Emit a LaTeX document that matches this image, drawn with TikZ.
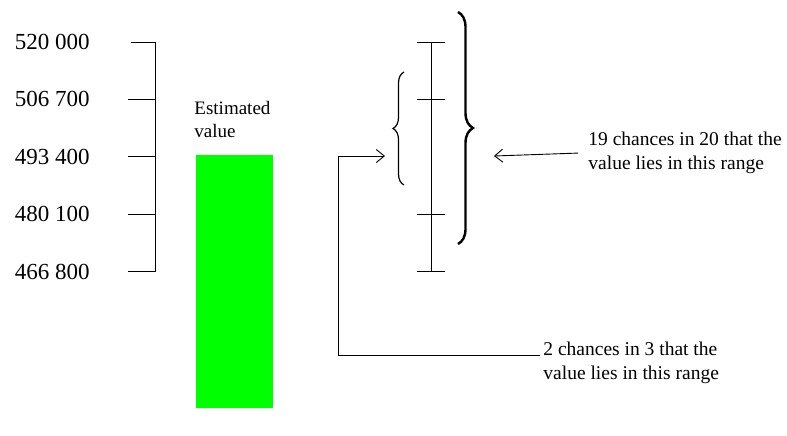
\documentclass[tikz,border=0pt]{standalone}
\usepackage{fontspec}
\setmainfont{Liberation Serif}
\usetikzlibrary{arrows.meta,decorations.pathreplacing}
\definecolor{barGreen}{RGB}{0,255,0}
\begin{document}
\begin{tikzpicture}[x=1pt,y=-1pt,line width=0.9pt,
  ticklabel/.style={anchor=east,inner sep=0pt,font=\fontsize{23}{27}\selectfont},
  note/.style={anchor=north west,inner sep=0pt,align=left,font=\fontsize{19.5}{23.5}\selectfont},
  openhead/.style={-{Straight Barb[length=8pt,width=13pt,line width=0.9pt]}},
  bracestyle/.style={decorate,decoration={brace,amplitude=#1}}
]
\useasboundingbox (0,0) rectangle (787,436);

% value scale on the left
\foreach \v/\k in {520 000/0, 506 700/1, 493 400/2, 480 100/3, 466 800/4}{
  \coordinate (ax\k) at (155,42+57.4*\k);
  \coordinate (tk\k) at (128,42+57.4*\k);
  \node[ticklabel] (lab\k) at (90,42+57.4*\k) {\v};
}
\draw (ax0) -- (ax4);
\draw (131,42) -- (ax0);
\foreach \k in {1,...,4}{ \draw (tk\k) -- (ax\k); }

% estimate bar
\fill[barGreen] (196,155) rectangle (273,408);
\node[note,font=\fontsize{19}{22.5}\selectfont] (est) at (194,101) {Estimated\\value};

% interval bar with its ticks
\coordinate (eb0) at (431,42);
\coordinate (eb1) at (431,99.4);
\coordinate (eb3) at (431,214.2);
\coordinate (eb4) at (431,271.6);
\draw (eb0) -- (eb4);
\foreach \k in {0,1,3,4}{ \draw ([xshift=-14pt]eb\k) -- ([xshift=14pt]eb\k); }

% braces marking the two ranges
\coordinate (sbBot) at (404,185);
\coordinate (sbTop) at (404,72);
\draw[bracestyle=11pt,line width=1.2pt] (sbBot) -- (sbTop);
\coordinate (lbTop) at (458,12);
\coordinate (lbBot) at (458,244);
\draw[bracestyle=15pt,line width=2.4pt] (lbTop) -- (lbBot);

% annotations
\node[note] (upnote) at (588,132) {19 chances in 20 that the\\value lies in this range};
\node[note] (lownote) at (543,342) {2 chances in 3 that the\\value lies in this range};

\coordinate (bigTip) at (494,156);
\coordinate (smallTip) at (385,156);
\coordinate (elbow) at (338,156);

\draw[openhead] ([xshift=-10pt]upnote.west) -- (bigTip);
\draw[openhead] ([shift={(-3,13)}]lownote.north west) -| (elbow) -- (smallTip);
\end{tikzpicture}
\end{document}
